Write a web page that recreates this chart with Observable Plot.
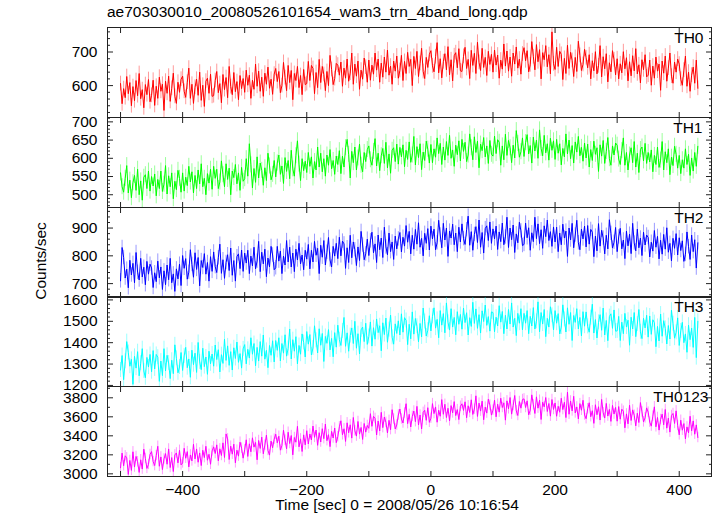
<!DOCTYPE html>
<html><head><meta charset="utf-8">
<script src="https://cdn.jsdelivr.net/npm/d3@7"></script>
<script src="https://cdn.jsdelivr.net/npm/@observablehq/plot@0.6"></script>
<style>
body{margin:0;background:#fff;font-family:"Liberation Sans",Arial,Helvetica,sans-serif;}
#wrap{position:relative;width:717px;height:516px;overflow:hidden;background:#fff;}
.panel{position:absolute;left:0;}
#title{position:absolute;left:107px;top:3px;font-size:15.5px;color:#000;white-space:nowrap;}
#ylab{position:absolute;left:41px;top:261px;font-size:15.5px;transform:translate(-50%,-50%) rotate(-90deg);white-space:nowrap;}
#xlab{position:absolute;left:397px;top:496px;font-size:15.5px;transform:translateX(-50%);white-space:nowrap;}
</style></head><body>
<div id="wrap">
<div id="title">ae703030010_20080526101654_wam3_trn_4band_long.qdp</div>
<div id="ylab">Counts/sec</div>
<div id="xlab">Time [sec] 0 = 2008/05/26 10:16:54</div>
</div>
<script>
// time bins (sec): first bin and bin width
const tStart = -500, tStep = 2.5;

const seriesNames = ["TH0", "TH1", "TH2", "TH3", "TH0123"];

const th0 = [
606,546,591,564,627,576,609,540,597,555,615,570,636,561,588,534,603,573,618,552,
571,616,541,598,562,625,583,604,526,613,577,628,553,592,637,568,547,610,580,619,
628,583,565,610,652,562,604,547,595,619,571,640,556,601,538,613,622,577,634,568,
570,615,642,579,606,549,633,588,624,564,657,597,573,639,582,612,558,630,591,621,
580,646,601,631,562,616,589,664,598,643,583,625,568,637,604,655,592,619,574,634,
651,612,642,579,600,669,624,585,660,609,645,558,636,615,657,594,630,573,648,603,
606,672,615,660,651,576,639,594,678,609,657,633,585,642,600,690,648,603,621,666,
661,631,670,598,652,622,679,613,637,697,604,664,628,673,589,646,619,682,655,610,
676,616,661,634,697,646,679,610,667,625,685,640,706,631,658,604,673,643,688,622,
645,690,615,672,636,699,657,678,600,687,651,702,627,666,711,642,621,684,654,693,
704,659,641,686,728,638,680,623,671,695,647,716,632,677,614,689,698,653,710,644,
642,687,714,651,678,621,705,660,696,636,729,669,645,711,654,684,630,702,663,693,
640,706,661,691,622,676,649,724,658,703,643,685,628,697,664,715,652,679,634,694,
713,674,704,641,662,731,686,647,722,671,707,620,698,677,719,656,692,635,760,665,
648,714,657,702,693,618,681,636,720,651,699,675,627,684,642,732,690,645,663,708,
683,653,692,620,674,644,701,635,659,719,626,686,650,695,611,668,641,704,677,632,
680,620,665,638,701,650,683,614,671,629,689,644,710,635,662,608,677,647,692,626,
631,676,601,658,622,685,643,664,586,673,637,688,613,652,697,628,607,670,640,679,
664,619,601,646,688,598,640,583,631,655,607,676,592];

const th1 = [
560,522,507,545,580,505,540,492,533,553,512,570,500,538,485,548,555,517,565,510,
550,524,557,497,542,517,565,509,529,580,502,552,522,560,489,537,514,567,545,507,
560,510,548,525,578,535,563,505,553,517,568,530,585,522,545,500,558,532,570,515,
578,545,570,517,535,593,555,522,585,542,573,500,565,547,583,530,560,512,575,537,
544,599,551,640,582,519,572,534,604,546,587,567,526,574,539,614,579,541,556,594,
549,587,609,556,579,531,602,564,594,544,622,571,551,607,648,584,539,599,566,592,
561,616,578,604,546,591,568,631,576,614,563,599,551,609,581,624,571,594,556,606,
583,621,558,606,576,629,652,611,546,619,588,631,568,601,639,581,563,616,591,624,
634,596,581,619,654,579,614,566,607,627,586,644,574,612,559,622,629,591,639,584,
630,604,637,577,622,597,645,589,609,660,582,632,602,640,569,617,594,647,625,587,
638,588,626,603,656,613,641,583,631,595,646,608,663,600,623,578,636,610,648,593,
652,619,644,591,609,667,629,596,659,616,647,574,639,621,657,604,634,586,649,611,
606,661,613,651,644,581,634,596,666,608,649,629,588,636,601,676,641,603,618,656,
605,643,665,612,635,587,658,620,650,600,678,627,607,663,615,640,595,655,622,648,
597,652,614,640,582,627,604,667,612,650,599,635,587,645,617,660,607,630,592,642,
601,639,576,624,594,647,611,629,564,637,606,649,586,619,657,599,581,634,609,642,
636,598,583,621,656,581,616,568,609,629,588,646,576,614,561,624,631,593,641,586,
616,590,623,563,608,583,631,575,595,646,568,618,588,626,555,603,580,633,611,573,
608,558,596,573,626,583,611,553,601,565,616,578,633];

const th2 = [
710,830,794,720,752,685,784,731,773,703,812,741,713,791,724,759,696,780,734,770,
756,686,739,707,781,721,760,679,746,696,767,714,791,703,735,672,753,717,770,693,
801,755,790,716,741,822,769,723,811,751,794,692,783,758,808,734,776,709,797,744,
814,761,740,793,842,737,786,719,776,804,747,828,730,783,709,797,807,754,821,744,
810,774,820,736,799,764,831,753,781,852,743,813,771,824,725,792,760,834,803,750,
757,834,781,817,736,799,767,855,778,831,760,810,743,824,785,845,771,803,750,820,
788,841,753,820,778,852,802,827,736,838,795,855,767,813,866,785,760,834,799,845,
790,867,800,853,843,755,829,776,874,793,850,822,765,832,783,888,839,786,807,860,
801,854,885,811,843,776,875,822,864,794,903,832,804,882,815,850,787,871,825,861,
884,814,867,835,909,849,888,807,874,824,895,842,919,831,863,800,881,845,898,821,
907,861,896,822,847,928,875,829,917,857,900,798,889,864,914,840,882,815,903,850,
915,862,841,894,943,838,887,820,877,905,848,929,831,884,810,898,908,855,922,845,
897,861,907,823,886,851,918,840,868,939,830,900,858,911,812,879,847,921,890,837,
841,918,865,901,820,883,851,939,862,915,844,894,827,908,869,929,855,887,834,904,
850,903,815,882,840,914,864,889,798,900,857,917,829,875,928,847,822,896,861,907,
832,909,842,895,885,797,871,818,916,835,892,864,807,874,825,930,881,828,849,902,
815,868,899,825,857,790,889,836,878,808,917,846,818,896,829,864,801,885,839,875,
866,796,849,817,891,831,870,789,856,806,877,824,901,813,845,782,863,827,880,803,
865,819,854,780,805,886,833,787,875,815,858,756,847];

const th3 = [
1272,1340,1227,1313,1405,1354,1290,1322,1205,1336,1281,1358,1245,1304,1372,1268,1236,1331,1286,1345,
1264,1363,1277,1345,1332,1219,1314,1246,1372,1268,1341,1305,1232,1318,1255,1390,1327,1259,1286,1354,
1270,1338,1378,1283,1324,1238,1365,1297,1351,1261,1401,1310,1274,1374,1288,1333,1252,1360,1301,1347,
1290,1389,1321,1367,1263,1344,1303,1416,1317,1385,1294,1358,1272,1376,1326,1403,1308,1349,1281,1371,
1391,1301,1369,1328,1423,1346,1396,1292,1378,1314,1405,1337,1436,1323,1364,1283,1387,1341,1409,1310,
1410,1364,1423,1315,1396,1351,1437,1337,1373,1464,1324,1414,1360,1428,1301,1387,1346,1441,1401,1333,
1452,1393,1438,1343,1375,1479,1411,1352,1465,1388,1443,1312,1429,1397,1461,1366,1420,1334,1447,1379,
1482,1414,1387,1455,1518,1383,1446,1360,1433,1469,1396,1500,1374,1442,1347,1460,1473,1405,1491,1392,
1429,1497,1384,1470,1416,1511,1447,1479,1362,1493,1438,1515,1402,1461,1529,1425,1393,1488,1443,1502,
1436,1535,1449,1517,1504,1391,1486,1418,1544,1440,1513,1477,1404,1490,1427,1562,1499,1431,1458,1526,
1455,1523,1563,1468,1509,1423,1550,1482,1536,1446,1586,1495,1459,1559,1473,1518,1437,1545,1486,1532,
1463,1562,1494,1540,1436,1517,1476,1589,1490,1558,1467,1531,1445,1549,1499,1576,1481,1522,1454,1544,
1541,1451,1519,1478,1573,1496,1546,1442,1528,1464,1555,1487,1586,1473,1514,1433,1537,1491,1559,1460,
1537,1491,1550,1442,1523,1478,1564,1464,1500,1591,1451,1541,1487,1555,1428,1514,1473,1568,1528,1460,
1550,1491,1536,1441,1473,1577,1509,1450,1563,1486,1541,1410,1527,1495,1559,1464,1518,1432,1545,1477,
1544,1476,1449,1517,1580,1445,1508,1422,1495,1531,1458,1562,1436,1504,1409,1522,1535,1467,1553,1454,
1455,1523,1410,1496,1442,1537,1473,1505,1388,1519,1464,1541,1428,1487,1555,1451,1419,1514,1469,1528,
1426,1525,1439,1507,1494,1381,1476,1408,1534,1430,1503,1467,1394,1480,1417,1552,1489,1421,1448,1516,
1387,1455,1495,1400,1441,1355,1482,1414,1468,1378,1518,1330,1500];

const th0123 = [
3064,3218,3085,3190,3169,2994,3141,3036,3232,3071,3183,3127,3015,3148,3050,3260,3162,3057,3099,3204,
3234,3129,3087,3192,3290,3080,3178,3045,3157,3213,3101,3262,3066,3171,3024,3199,3220,3115,3248,3094,
3115,3269,3164,3234,3073,3199,3136,3311,3157,3262,3122,3220,3087,3248,3171,3290,3143,3206,3101,3241,
3284,3214,3305,3137,3263,3193,3326,3172,3420,3368,3151,3291,3207,3312,3116,3249,3186,3333,3270,3165,
3253,3358,3183,3316,3232,3379,3281,3330,3148,3351,3267,3386,3211,3302,3407,3246,3197,3344,3274,3365,
3417,3326,3396,3249,3298,3459,3354,3263,3438,3319,3403,3200,3382,3333,3500,3284,3368,3235,3410,3305,
3454,3314,3419,3356,3503,3384,3461,3300,3433,3335,3475,3370,3524,3349,3412,3286,3447,3377,3482,3328,
3390,3495,3558,3411,3474,3341,3537,3432,3516,3376,3593,3453,3397,3551,3418,3488,3362,3530,3439,3509,
3479,3633,3500,3605,3584,3409,3556,3451,3647,3486,3598,3542,3430,3563,3465,3675,3577,3472,3514,3619,
3682,3577,3535,3640,3738,3528,3626,3493,3605,3661,3549,3710,3514,3619,3472,3647,3668,3563,3696,3542,
3585,3739,3634,3704,3543,3669,3606,3781,3627,3732,3592,3690,3557,3718,3641,3760,3613,3676,3571,3711,
3737,3667,3758,3590,3716,3646,3779,3625,3681,3821,3604,3744,3660,3765,3569,3702,3639,3786,3723,3618,
3670,3775,3600,3733,3649,3796,3698,3747,3565,3768,3684,3803,3628,3719,3824,3663,3614,3761,3691,3782,
3789,3698,3768,3621,3670,3831,3726,3635,3810,3691,3775,3572,3754,3705,3803,3656,3740,3607,3782,3677,
3746,3606,3711,3648,3795,3676,3753,3592,3860,3627,3767,3662,3816,3641,3704,3578,3739,3669,3774,3620,
3580,3685,3748,3601,3664,3531,3727,3622,3706,3566,3783,3643,3587,3741,3608,3678,3552,3720,3629,3699,
3554,3708,3575,3680,3659,3484,3631,3526,3722,3561,3673,3617,3505,3638,3540,3750,3652,3547,3589,3694,
3649,3544,3502,3607,3705,3495,3593,3460,3572,3628,3516,3677,3481,3586,3439,3614,3635,3530,3663,3509,
3410,3564,3459,3529,3368,3494,3431,3606,3452,3557,3417,3515,3382];

// 1-sigma error per bin for each band
const errors = [22, 22, 26, 35, 55];

// axis ranges and tick labels
const yDomains = [[505, 773], [465, 712], [650, 974], [1195, 1616], [2972, 3919]];
const yMajorTicks = [
  [600, 700],
  [500, 550, 600, 650, 700],
  [700, 800, 900],
  [1200, 1300, 1400, 1500, 1600],
  [3000, 3200, 3400, 3600, 3800]
];
const yMinorStep = [20, 10, 20, 20, 100];
const xDomain = [-521, 452];
const xTicks = [-500, -400, -300, -200, -100, 0, 100, 200, 300, 400];
const xTickLabels = [-400, -200, 0, 200, 400];

// styling / layout
const colors = ["#ff0000", "#00ff00", "#0000ff", "#00ffff", "#ff00ff"];
const labelDx = [-8, -9, -8, -8, -3];
const panelTop = 27, panelH = 89.8;
const axisColor = "#222";
const font = '"Liberation Sans", Arial, Helvetica, sans-serif';

const values = [th0, th1, th2, th3, th0123];
const wrap = document.getElementById("wrap");

values.forEach((vals, i) => {
  const last = i === values.length - 1;
  const err = errors[i];
  const data = vals.map((v, j) => ({t: tStart + j * tStep, v, lo: v - err, hi: v + err}));
  const [d0, d1] = yDomains[i];
  const st = yMinorStep[i];
  const minor = d3.range(Math.ceil(d0 / st) * st, d1 + 1e-9, st).filter(v => !yMajorTicks[i].includes(v));
  const chart = Plot.plot({
    width: 717,
    height: last ? 130 : 90,
    marginLeft: 107,
    marginRight: 6,
    marginTop: 0,
    marginBottom: last ? 40 : 0,
    x: {domain: xDomain, axis: null},
    y: {domain: yDomains[i], axis: null},
    style: {overflow: "visible", background: "transparent", fontFamily: font, fontSize: "15.5px", color: "#000"},
    marks: [
      Plot.ruleX(data, {x: "t", y1: "lo", y2: "hi", stroke: colors[i], strokeOpacity: 0.4, strokeWidth: 1, clip: true}),
      Plot.line(data, {x: "t", y: "v", stroke: colors[i], strokeWidth: 1, clip: true}),
      Plot.axisY(minor, {anchor: "left", tickSize: -3, fill: "none", label: null, stroke: axisColor}),
      Plot.axisY(minor, {anchor: "right", tickSize: -3, fill: "none", label: null, stroke: axisColor}),
      Plot.axisY(yMajorTicks[i], {anchor: "left", tickSize: -6, fill: "none", label: null, stroke: axisColor}),
      Plot.axisY(yMajorTicks[i], {anchor: "right", tickSize: -6, fill: "none", label: null, stroke: axisColor}),
      Plot.axisY(yMajorTicks[i], {anchor: "left", tickSize: 0, tickPadding: 10, label: null, fill: "#000", tickFormat: d => String(d)}),
      Plot.axisX(xTicks, {anchor: "top", tickSize: -5, fill: "none", label: null, stroke: axisColor}),
      Plot.axisX(xTicks, {anchor: "bottom", tickSize: -5, fill: "none", label: null, stroke: axisColor}),
      last ? Plot.axisX(xTickLabels, {anchor: "bottom", tickSize: 0, tickPadding: 7, label: null, fill: "#000", tickFormat: d => d < 0 ? "\u2212" + (-d) : String(d)}) : null,
      Plot.frame({stroke: axisColor, strokeWidth: 1}),
      Plot.text([seriesNames[i]], {text: d => d, frameAnchor: "top-right", lineAnchor: "top", dx: labelDx[i], dy: 4.5, fontSize: 15.5, fill: "#000"})
    ]
  });
  const div = document.createElement("div");
  div.className = "panel";
  div.style.top = (panelTop + i * panelH) + "px";
  div.appendChild(chart);
  wrap.appendChild(div);
});
</script>
</body></html>
